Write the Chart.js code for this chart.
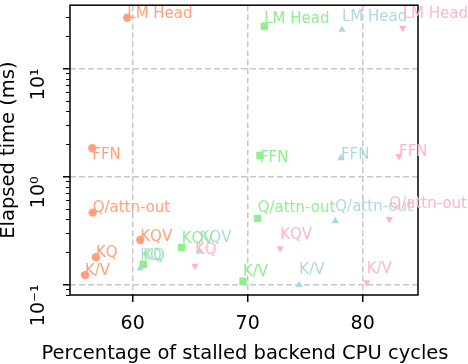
<!DOCTYPE html>
<html><head><meta charset="utf-8">
<script src="https://cdn.jsdelivr.net/npm/chart.js@4/dist/chart.umd.min.js"></script>
<style>html,body{margin:0;padding:0;background:#fff;}#wrap{width:468px;height:364px;}</style>
</head><body><div id="wrap"><canvas id="c" width="468" height="364"></canvas></div>
<script>
// ---- data ----
const categories = ['LM Head', 'FFN', 'Q/attn-out', 'KQV', 'KQ', 'K/V'];
const seriesNames = ['Config A', 'Config B', 'Config C', 'Config D'];
// percentage of stalled backend CPU cycles
const stallA = [59.53, 56.49, 56.52, 60.66, 56.80, 55.85];
const stallB = [71.44, 71.07, 70.87, 64.26, 60.92, 69.59];
const stallC = [78.20, 78.11, 77.62, 65.81, 60.66, 74.49];
const stallD = [83.48, 83.16, 82.32, 72.83, 65.42, 80.35];
// elapsed time (ms)
const timeA = [29.5, 1.82, 0.462, 0.258, 0.178, 0.1217];
const timeB = [24.6, 1.56, 0.408, 0.2197, 0.1535, 0.1072];
const timeC = [22.9, 1.476, 0.386, 0.2018, 0.141, 0.0986];
const timeD = [23.7, 1.54, 0.4025, 0.215, 0.148, 0.1043];
// axis ticks
const xTickValues = [60, 70, 80];
const yTickValues = [0.1, 1, 10];
const yTickLabels = ['10\u207B\u00B9', '10\u2070', '10\u00B9'];
const xTitle = 'Percentage of stalled backend CPU cycles';
const yTitle = 'Elapsed time (ms)';

// ---- styles (kept apart from data) ----
const colors = ['#FFA07A', '#90EE90', '#ADD8E6', '#FFB6C1'];
const styles = [
  {pointStyle: 'circle', radius: 4.2, rotation: 0},
  {pointStyle: 'rect', radius: 5.2, rotation: 0},
  {pointStyle: 'triangle', radius: 4.3, rotation: 0},
  {pointStyle: 'triangle', radius: 4.3, rotation: 180}
];
// baseline offsets (px) of each text label relative to its marker
const labelDy = [
  [0, 10.5, -1, 1.5, 0, 0],
  [-3.3, 6, -6.2, -4, -4, -5],
  [-8.7, 1.3, -10.3, -9.3, -8, -11],
  [-10, 0, -11.3, -9, -11.7, -9.3]
];
const drawOrder = [4, 2, 3, 1]; // lower = on top

const FONT = 'DejaVu Sans';
const xs = [stallA, stallB, stallC, stallD];
const ys = [timeA, timeB, timeC, timeD];

const datasets = xs.map((xv, s) => ({
  label: seriesNames[s],
  data: xv.map((x, i) => ({x: x, y: ys[s][i]})),
  showLine: false,
  pointStyle: styles[s].pointStyle,
  pointRadius: styles[s].radius,
  pointRotation: styles[s].rotation,
  pointBackgroundColor: colors[s],
  pointBorderColor: colors[s],
  pointBorderWidth: 0,
  order: drawOrder[s]
}));

const decorPlugin = {
  id: 'decor',
  afterDatasetsDraw(chart) {
    const {ctx, chartArea: a} = chart;
    const yS = chart.scales.y;
    ctx.save();
    // frame
    ctx.strokeStyle = '#000';
    ctx.lineWidth = 1.5;
    ctx.strokeRect(a.left, a.top, a.right - a.left, a.bottom - a.top);
    // minor log ticks
    ctx.lineWidth = 1;
    const lo = Math.floor(Math.log10(yS.min)), hi = Math.ceil(Math.log10(yS.max));
    for (let d = lo; d <= hi; d++) {
      for (let m = 2; m <= 9; m++) {
        const v = m * Math.pow(10, d);
        if (v < yS.min || v > yS.max) continue;
        const py = Math.round(yS.getPixelForValue(v)) + 0.5;
        ctx.beginPath();
        ctx.moveTo(a.left - 4, py);
        ctx.lineTo(a.left, py);
        ctx.stroke();
      }
    }
    // x axis title
    ctx.fillStyle = '#000';
    ctx.font = '19.5px "' + FONT + '"';
    ctx.textAlign = 'center';
    ctx.textBaseline = 'alphabetic';
    ctx.fillText(xTitle, (a.left + a.right) / 2 + 1, 359);
    // point labels
    ctx.font = '15px "' + FONT + '"';
    ctx.textAlign = 'left';
    const seq = [0, 2, 1, 3];
    seq.forEach(s => {
      const meta = chart.getDatasetMeta(s);
      ctx.fillStyle = colors[s];
      meta.data.forEach((pt, i) => {
        ctx.fillText(categories[i], pt.x, pt.y + labelDy[s][i]);
      });
    });
    ctx.restore();
  }
};

new Chart(document.getElementById('c'), {
  type: 'scatter',
  data: {datasets},
  options: {
    responsive: false,
    animation: false,
    events: [],
    devicePixelRatio: 1,
    layout: {padding: {top: 2, right: 50, left: 0, bottom: 0}},
    plugins: {legend: {display: false}, tooltip: {enabled: false}},
    scales: {
      x: {
        type: 'linear',
        min: 54.55, max: 84.81,
        afterBuildTicks: s => { s.ticks = xTickValues.map(v => ({value: v})); },
        afterFit: s => { s.height = 69; s.paddingLeft = 0; s.paddingRight = 0; },
        grid: {color: '#c8c8c8', lineWidth: 1.5, tickLength: 7, tickColor: '#000', tickWidth: 1.5},
        border: {display: false, dash: [6, 3]},
        ticks: {font: {family: FONT, size: 19}, color: '#000', padding: 10.5, maxRotation: 0, autoSkip: false},
        title: {display: false}
      },
      y: {
        type: 'logarithmic',
        min: 0.0797, max: 38.5,
        afterBuildTicks: s => { s.ticks = yTickValues.map(v => ({value: v})); },
        afterFit: s => { s.width = 70; s.paddingTop = 0; s.paddingBottom = 0; },
        grid: {color: '#c8c8c8', lineWidth: 1.5, tickLength: 7, tickColor: '#000', tickWidth: 1.5},
        border: {display: false, dash: [6, 3]},
        ticks: {
          font: {family: FONT, size: 19}, color: '#000', padding: 23.6, autoSkip: false,
          minRotation: 90, maxRotation: 90, crossAlign: 'near',
          callback: (v) => { const k = yTickValues.indexOf(v); return k >= 0 ? yTickLabels[k] : ''; }
        },
        title: {display: true, text: yTitle, color: '#000',
                font: {family: FONT, size: 19.5, lineHeight: 0.9}, padding: 0}
      }
    }
  },
  plugins: [decorPlugin]
});
</script></body></html>
